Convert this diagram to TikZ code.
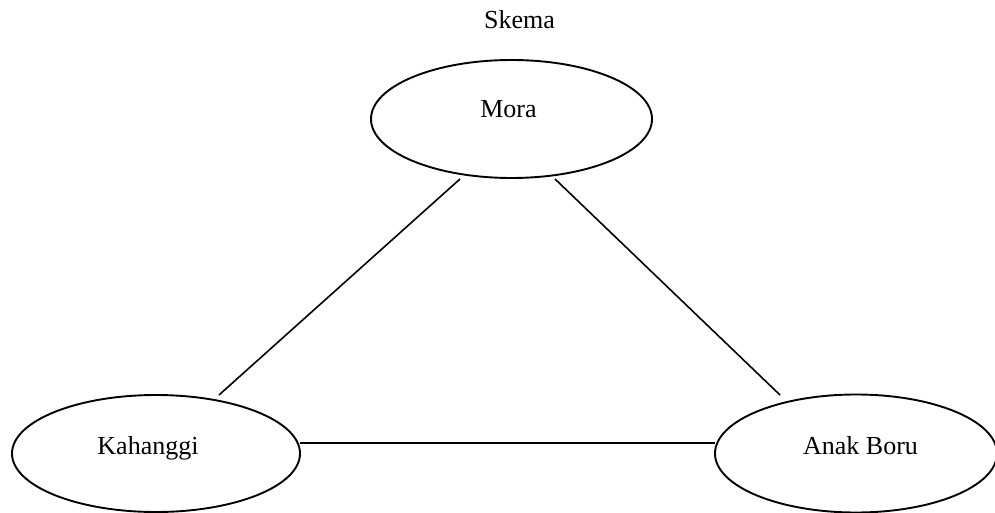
\documentclass[tikz,border=0pt]{standalone}
\usepackage{fontspec}
\setmainfont{Liberation Serif}
\usetikzlibrary{shapes.geometric,calc}
\begin{document}
\begin{tikzpicture}[x=0.5pt,y=-0.5pt,
  kin/.style={draw, ellipse, line width=0.95pt, inner sep=0pt,
    minimum width=141pt, minimum height=59pt, font=\fontsize{13}{15}\selectfont},
  tie/.style={line width=0.8pt},
  lbl/.style={font=\fontsize{13}{15}\selectfont, inner sep=0pt, anchor=base}]
  \useasboundingbox (0,0) rectangle (995,513);
  % title
  \node[lbl] (title) at (519.5,28.5) {Skema};
  % the three kinship groups
  \node[kin, minimum width=140.5pt] (mora) at (511.5,119) {};
  \node[lbl] (moratxt) at (508.5,117.5) {Mora};
  \node[kin, minimum width=144pt, minimum height=58.5pt] (kah) at (156,453.5) {};
  \node[lbl] (kahtxt) at (148,454) {Kahanggi};
  \node[kin] (anak) at (856,453.5) {};
  \node[lbl] (anaktxt) at (860.5,454) {Anak Boru};
  % relations
  \draw[tie] ($(mora.center)+(-51.5,60)$) -- ($(kah.center)+(63,-58.5)$);
  \draw[tie] ($(mora.center)+(43.5,60)$) -- ($(anak.center)+(-76,-58.5)$);
  \draw[tie] ($(kah.center)+(144,-10.5)$) -- ($(anak.center)+(-141,-10.5)$);
\end{tikzpicture}
\end{document}
